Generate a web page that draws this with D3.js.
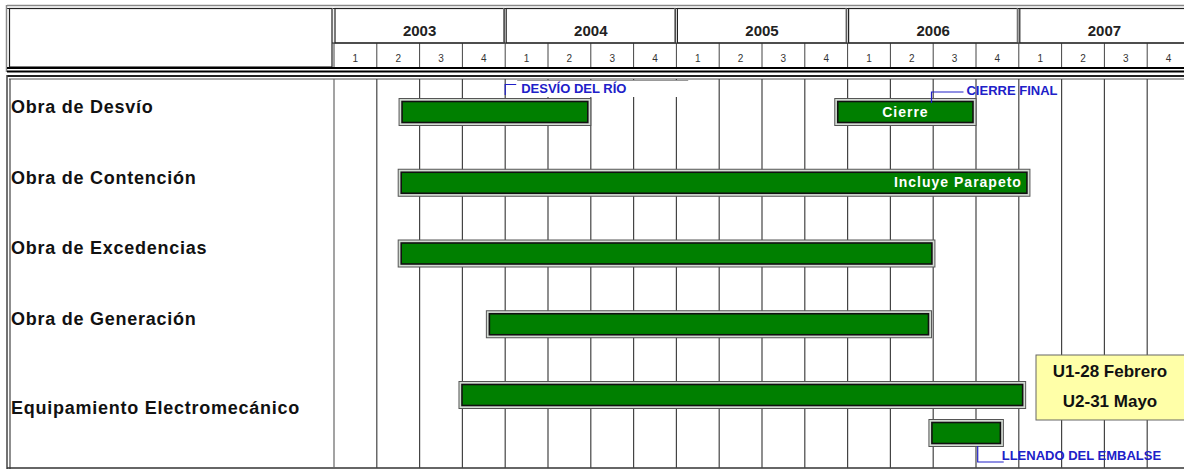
<!DOCTYPE html>
<html><head><meta charset="utf-8">
<script src="https://cdn.jsdelivr.net/npm/d3@7/dist/d3.min.js"></script>
<style>
html,body{margin:0;padding:0;background:#fff;}
svg{display:block;font-family:"Liberation Sans",Arial,sans-serif;}
</style></head>
<body><svg id="c" width="1184" height="470"></svg>
<script>
// ---- data ----
const tasks = ["Obra de Desvío","Obra de Contención","Obra de Excedencias","Obra de Generación","Equipamiento Electromecánico"];
const years = [2003,2004,2005,2006,2007];
const quarters = [1,2,3,4];
// bars (decimal years)
const barTask  = [0,0,1,2,3,4,4];
const barLane  = [0,0,0,0,0,0,1];
const barStart = [2003.38,2005.925,2003.375,2003.375,2003.89,2003.73,2006.475];
const barEnd   = [2004.5,2006.75,2007.065,2006.51,2006.49,2007.04,2006.91];
const barText  = ["","Cierre","Incluye Parapeto","","","",""];
// annotations
const noteText = ["DESVÍO DEL RÍO","CIERRE FINAL","LLENADO DEL EMBALSE"];
const noteAt   = [2004.0,2006.49,2006.76];
const noteLines = ["U1-28 Febrero","U2-31 Mayo"];

// ---- layout ----
const svg = d3.select("#c");
const x = d3.scaleLinear().domain([2003,2008]).range([334,334+20*42.8]);
const y = d3.scalePoint().domain(tasks).range([112,395]);
const W = 1184, bodyTop = 79, bodyBot = 468;

// header frame
svg.append("line").attr("x1",7).attr("x2",W).attr("y1",5.5).attr("y2",5.5).attr("stroke","#888").attr("stroke-width",1.5);
svg.append("line").attr("x1",7).attr("x2",W).attr("y1",8.5).attr("y2",8.5).attr("stroke","#222").attr("stroke-width",1.2);
svg.append("line").attr("x1",6.5).attr("x2",6.5).attr("y1",5).attr("y2",72).attr("stroke","#888").attr("stroke-width",1.5);
svg.append("rect").attr("x",9.5).attr("y",8.5).attr("width",332-9.5).attr("height",67-8.5).attr("fill","none").attr("stroke","#222").attr("stroke-width",1.2);

// year cells
const yr = svg.append("g");
years.forEach(Y=>{
  yr.append("rect").attr("x",x(Y)+1).attr("y",8.5).attr("width",x(Y+1)-x(Y)-2).attr("height",34.5)
    .attr("fill","none").attr("stroke","#222").attr("stroke-width",1.2);
  yr.append("line").attr("x1",x(Y)-1.5).attr("x2",x(Y)-1.5).attr("y1",8).attr("y2",43).attr("stroke","#777").attr("stroke-width",1.2);
  yr.append("text").attr("x",x(Y+0.5)).attr("y",32).attr("text-anchor","middle").attr("dominant-baseline","middle")
    .attr("font-size",15).attr("font-weight","bold").attr("fill","#222").text(Y);
  quarters.forEach(q=>{
    const a = Y+(q-1)/4;
    yr.append("line").attr("x1",x(a)).attr("x2",x(a)).attr("y1",43).attr("y2",67).attr("stroke","#444").attr("stroke-width",1);
    yr.append("text").attr("x",x(a+0.125)).attr("y",59).attr("text-anchor","middle").attr("dominant-baseline","middle")
      .attr("font-size",10).attr("fill","#333").text(q);
  });
});
svg.append("line").attr("x1",332).attr("x2",W).attr("y1",43).attr("y2",43).attr("stroke","#222").attr("stroke-width",1.2);
// header bottom double thick line
svg.append("line").attr("x1",7).attr("x2",W).attr("y1",68).attr("y2",68).attr("stroke","#000").attr("stroke-width",2.2);
svg.append("line").attr("x1",7).attr("x2",W).attr("y1",71.5).attr("y2",71.5).attr("stroke","#000").attr("stroke-width",2);

// body frame
svg.append("line").attr("x1",7).attr("x2",W).attr("y1",76).attr("y2",76).attr("stroke","#222").attr("stroke-width",2);
svg.append("line").attr("x1",9).attr("x2",W).attr("y1",79).attr("y2",79).attr("stroke","#555").attr("stroke-width",1.2);
svg.append("line").attr("x1",7).attr("x2",7).attr("y1",75).attr("y2",469).attr("stroke","#444").attr("stroke-width",1.5);
svg.append("line").attr("x1",10).attr("x2",10).attr("y1",79).attr("y2",469).attr("stroke","#444").attr("stroke-width",1.2);
svg.append("line").attr("x1",7).attr("x2",W).attr("y1",bodyBot).attr("y2",bodyBot).attr("stroke","#333").attr("stroke-width",1.5);

// grid lines (quarter boundaries)
const gridVals = d3.range(0,20).map(i=>2003+i/4);
svg.append("g").selectAll("line").data(gridVals).join("line")
  .attr("x1",d=>x(d)).attr("x2",d=>x(d)).attr("y1",bodyTop).attr("y2",bodyBot)
  .attr("stroke",(d,i)=>i===0?"#666":"#444").attr("stroke-width",1.2);

// row labels
svg.append("g").selectAll("text").data(tasks).join("text")
  .attr("x",11).attr("y",(d,i)=>y(d)+(i===4?14:-4)).attr("dominant-baseline","middle")
  .attr("font-size",18).attr("letter-spacing",0.75).attr("font-weight","bold").attr("fill","#111").text(d=>d);

// bars
const bh = 27;
const bars = svg.append("g").selectAll("g").data(barStart.map((s,i)=>i)).join("g");
bars.append("rect")
  .attr("x",i=>x(barStart[i])).attr("y",i=>y(tasks[barTask[i]])+barLane[i]*38-bh/2)
  .attr("width",i=>x(barEnd[i])-x(barStart[i])).attr("height",bh)
  .attr("fill","#d4dcd4").attr("stroke","#555").attr("stroke-width",1);
bars.append("rect")
  .attr("x",i=>x(barStart[i])+3).attr("y",i=>y(tasks[barTask[i]])+barLane[i]*38-bh/2+3)
  .attr("width",i=>x(barEnd[i])-x(barStart[i])-6).attr("height",bh-6)
  .attr("fill","#007f00").attr("stroke","#111").attr("stroke-width",1.6);
// bar labels
bars.filter(i=>barText[i]==="Cierre").append("text")
  .attr("x",i=>(x(barStart[i])+x(barEnd[i]))/2).attr("y",i=>y(tasks[barTask[i]])+1)
  .attr("text-anchor","middle").attr("dominant-baseline","middle")
  .attr("font-size",14).attr("font-weight","bold").attr("fill","#fff").attr("letter-spacing",1).text(i=>barText[i]);
bars.filter(i=>barText[i]==="Incluye Parapeto").append("text")
  .attr("x",i=>x(barEnd[i])-8).attr("y",i=>y(tasks[barTask[i]])+1)
  .attr("text-anchor","end").attr("dominant-baseline","middle")
  .attr("font-size",14).attr("font-weight","bold").attr("fill","#fff").attr("letter-spacing",1).text(i=>barText[i]);

// annotations
const blue = "#2020c8";
// DESVÍO DEL RÍO (white box over grid)
const a0 = x(noteAt[0]);
svg.append("rect").attr("x",a0+1).attr("y",80).attr("width",181).attr("height",17).attr("fill","#fff");
svg.append("line").attr("x1",a0+12).attr("x2",a0+183).attr("y1",80.5).attr("y2",80.5).attr("stroke","#999").attr("stroke-width",1);
svg.append("path").attr("d",`M${a0},95V84.5H${a0+11}`).attr("fill","none").attr("stroke",blue).attr("stroke-width",1.2);
svg.append("text").attr("x",a0+16).attr("y",90).attr("dominant-baseline","middle")
  .attr("font-size",13).attr("font-weight","bold").attr("fill",blue).text(noteText[0]);
// CIERRE FINAL
const a1 = x(noteAt[1]);
svg.append("path").attr("d",`M${a1},103V92H${a1+32}`).attr("fill","none").attr("stroke",blue).attr("stroke-width",1.2);
svg.append("text").attr("x",a1+35).attr("y",92).attr("dominant-baseline","middle")
  .attr("font-size",13).attr("font-weight","bold").attr("fill",blue).text(noteText[1]);
// LLENADO DEL EMBALSE
const a2 = x(noteAt[2]);
svg.append("path").attr("d",`M${a2},446V462H${a2+26}`).attr("fill","none").attr("stroke",blue).attr("stroke-width",1.2);
svg.append("text").attr("x",a2+24).attr("y",457).attr("dominant-baseline","middle")
  .attr("font-size",13).attr("font-weight","bold").attr("fill",blue).text(noteText[2]);

// yellow note box
svg.append("rect").attr("x",1036).attr("y",355).attr("width",160).attr("height",65)
  .attr("fill","#ffffa8").attr("stroke","#666").attr("stroke-width",1);
svg.append("g").selectAll("text").data(noteLines).join("text")
  .attr("x",1110).attr("y",(d,i)=>373+i*30).attr("text-anchor","middle").attr("dominant-baseline","middle")
  .attr("font-size",17).attr("font-weight","bold").attr("fill","#111").text(d=>d);
</script></body></html>
